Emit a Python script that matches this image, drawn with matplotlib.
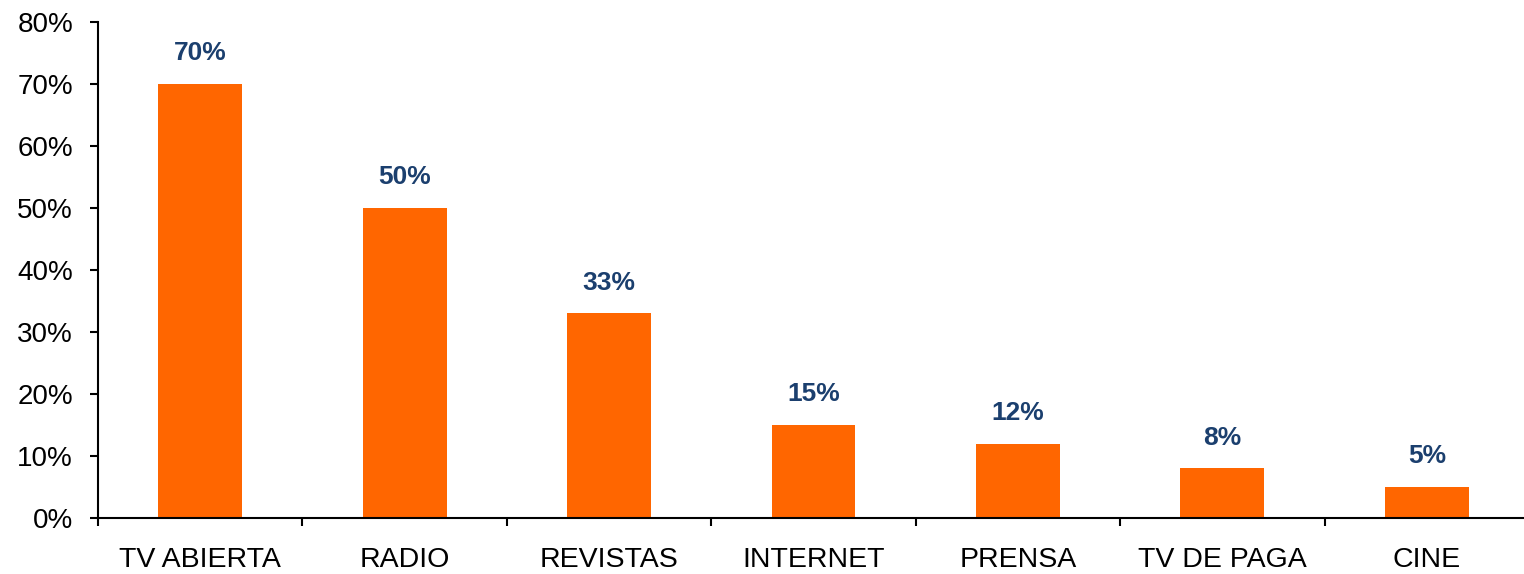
import numpy as np
import matplotlib
matplotlib.use("Agg")
from matplotlib import pyplot as plt
from matplotlib.ticker import FixedLocator, PercentFormatter

categories = ["TV ABIERTA", "RADIO", "REVISTAS", "INTERNET", "PRENSA", "TV DE PAGA", "CINE"]
values = [70, 50, 33, 15, 12, 8, 5]
yticks = [0, 10, 20, 30, 40, 50, 60, 70, 80]

plt.rcParams['font.family'] = ['Liberation Sans', 'DejaVu Sans']

fig = plt.figure(figsize=(15.24, 5.74), dpi=100)
ax = fig.add_axes([98 / 1524, 56 / 574, 1431 / 1524, 496 / 574])

x = np.arange(len(categories))
ax.bar(x, values, width=0.41, color="#FF6600", zorder=2)

for xi, v in zip(x, values):
    ax.annotate("%d%%" % v, (xi, v), xytext=(0, 17), textcoords="offset points",
                ha="center", va="baseline", fontsize=19, fontweight="bold",
                color="#1B3F6E")

ax.set_xlim(-0.5, len(categories) - 0.5)
ax.set_ylim(0, 80)
ax.set_yticks(yticks)
ax.yaxis.set_major_formatter(PercentFormatter(decimals=0))
ax.set_xticks(x)
ax.set_xticklabels(categories)
ax.xaxis.set_minor_locator(FixedLocator(np.arange(-0.5, len(categories), 1.0)))

ax.tick_params(axis="x", which="major", length=0, pad=21, labelsize=20.5)
ax.tick_params(axis="x", which="minor", length=6, width=1.5, direction="out")
ax.tick_params(axis="y", length=6, width=1.5, pad=12, labelsize=20)

for s in ["top", "right"]:
    ax.spines[s].set_visible(False)
for s in ["left", "bottom"]:
    ax.spines[s].set_linewidth(1.5)

fig.savefig("out.png", dpi=100)
